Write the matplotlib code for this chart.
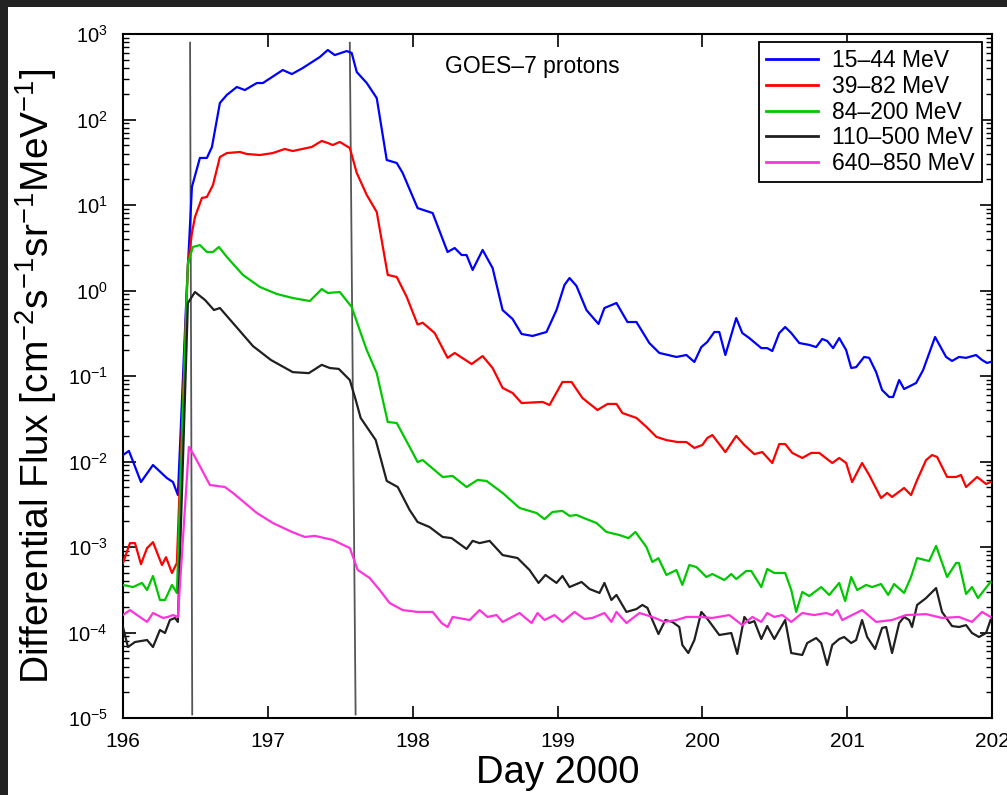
import matplotlib
matplotlib.use("Agg")
import matplotlib.pyplot as plt
from matplotlib.patches import Rectangle
from matplotlib.ticker import LogLocator, LogFormatterSciNotation, FixedLocator, NullLocator

plt.rcParams['font.family'] = ['Liberation Sans', 'DejaVu Sans']
plt.rcParams['mathtext.fontset'] = 'custom'
plt.rcParams['mathtext.rm'] = 'Liberation Sans'
plt.rcParams['mathtext.it'] = 'Liberation Sans:italic'
plt.rcParams['mathtext.bf'] = 'Liberation Sans:bold'
plt.rcParams['mathtext.sf'] = 'Liberation Sans'

# ---------------- data ----------------
labels = ["15–44 MeV", "39–82 MeV", "84–200 MeV", "110–500 MeV", "640–850 MeV"]
colors = ["#0000ff", "#ff0000", "#00c800", "#202020", "#ff33dd"]

day_15_44 = [196.000, 196.041, 196.124, 196.207, 196.303, 196.345, 196.379, 196.441, 196.476, 196.531,
             196.579, 196.614, 196.669, 196.717, 196.786, 196.841, 196.924, 196.966, 197.103, 197.166,
             197.241, 197.359, 197.414, 197.462, 197.545, 197.579, 197.614, 197.683, 197.752, 197.821,
             197.890, 197.931, 198.034, 198.138, 198.241, 198.290, 198.338, 198.372, 198.414, 198.483,
             198.552, 198.621, 198.690, 198.752, 198.828, 198.924, 198.993, 199.048, 199.083, 199.131,
             199.200, 199.241, 199.283, 199.324, 199.407, 199.483, 199.545, 199.634, 199.703, 199.821,
             199.890, 199.945, 199.993, 200.034, 200.083, 200.117, 200.159, 200.234, 200.276, 200.324,
             200.407, 200.448, 200.483, 200.531, 200.572, 200.614, 200.669, 200.738, 200.786, 200.828,
             200.862, 200.903, 200.945, 200.993, 201.028, 201.062, 201.117, 201.152, 201.200, 201.241,
             201.290, 201.317, 201.359, 201.393, 201.476, 201.524, 201.607, 201.683, 201.724, 201.772,
             201.821, 201.890, 201.931, 201.966, 201.990]
flux_15_44 = [1.19e-2, 1.33e-2, 5.75e-3, 9.1e-3, 6.4e-3, 5.75e-3, 4.06e-3, 1.1, 16.3, 35.5,
              35.5, 47.6, 156, 194, 240, 221, 267, 267, 379, 340,
              400, 538, 650, 567, 632, 600, 359, 267, 178, 33.6,
              31, 23.7, 9.2, 8.05, 2.82, 3.14, 2.60, 2.60, 1.74, 2.98,
              1.83, 0.59, 0.464, 0.31, 0.294, 0.327, 0.59, 1.16, 1.40, 1.13,
              0.59, 0.49, 0.406, 0.624, 0.714, 0.428, 0.428, 0.243, 0.186, 0.167,
              0.176, 0.146, 0.218, 0.25, 0.327, 0.327, 0.176, 0.476, 0.318, 0.278,
              0.212, 0.212, 0.196, 0.318, 0.374, 0.318, 0.243, 0.231, 0.218, 0.271,
              0.257, 0.212, 0.278, 0.201, 0.124, 0.127, 0.167, 0.163, 0.111, 0.0686,
              0.0568, 0.0568, 0.0897, 0.0704, 0.0828, 0.117, 0.286, 0.167, 0.150, 0.167,
              0.163, 0.176, 0.154, 0.142, 0.146]

day_39_82 = [196.000, 196.048, 196.083, 196.124, 196.166, 196.207, 196.269, 196.297, 196.338, 196.372,
             196.448, 196.476, 196.497, 196.545, 196.579, 196.621, 196.669, 196.717, 196.807, 196.855,
             196.945, 197.034, 197.117, 197.172, 197.303, 197.372, 197.414, 197.448, 197.497, 197.566,
             197.614, 197.683, 197.752, 197.828, 197.890, 197.959, 198.034, 198.069, 198.152, 198.241,
             198.290, 198.407, 198.483, 198.552, 198.621, 198.690, 198.752, 198.897, 198.945, 199.034,
             199.097, 199.172, 199.276, 199.345, 199.407, 199.448, 199.545, 199.614, 199.683, 199.752,
             199.828, 199.890, 199.945, 200.000, 200.034, 200.069, 200.159, 200.234, 200.290, 200.359,
             200.414, 200.483, 200.531, 200.572, 200.621, 200.690, 200.752, 200.807, 200.897, 200.945,
             200.993, 201.034, 201.103, 201.152, 201.234, 201.276, 201.310, 201.393, 201.441, 201.483,
             201.545, 201.586, 201.621, 201.690, 201.752, 201.786, 201.821, 201.897, 201.959, 201.990]
flux_39_82 = [6.5e-4, 1.11e-3, 1.11e-3, 6.3e-4, 9.7e-4, 1.14e-3, 6.15e-4, 7.6e-4, 4.97e-4, 6.5e-4,
              2.0, 4.71, 7.24, 12.1, 12.4, 17.1, 36.4, 40.5, 41.7, 39.5,
              38.4, 40.5, 45.2, 42.8, 47.7, 56.1, 53.1, 50.3, 54.6, 46.4,
              23.7, 13.1, 8.28, 1.52, 1.44, 0.84, 0.40, 0.42, 0.318, 0.163,
              0.186, 0.138, 0.171, 0.124, 0.0725, 0.0633, 0.0483, 0.0497, 0.0458, 0.0851,
              0.0851, 0.0553, 0.040, 0.0471, 0.0471, 0.0369, 0.0323, 0.0254, 0.0194, 0.0178,
              0.0169, 0.0169, 0.0144, 0.0156, 0.0188, 0.0204, 0.0129, 0.0199, 0.0156, 0.0122,
              0.0129, 0.0096, 0.016, 0.016, 0.0126, 0.011, 0.0126, 0.0126, 0.0096, 0.011,
              0.0096, 0.00575, 0.0096, 0.00695, 0.00374, 0.00429, 0.00385, 0.0049, 0.00405, 0.00608,
              0.0104, 0.0119, 0.0113, 0.00659, 0.00659, 0.00695, 0.00503, 0.00659, 0.00546, 0.00575]

day_84_200 = [196.000, 196.069, 196.131, 196.166, 196.207, 196.255, 196.290, 196.338, 196.372, 196.448,
              196.483, 196.531, 196.579, 196.621, 196.662, 196.717, 196.828, 196.945, 197.062, 197.172,
              197.290, 197.372, 197.414, 197.497, 197.579, 197.634, 197.683, 197.752, 197.828, 197.890,
              197.979, 198.034, 198.069, 198.207, 198.276, 198.372, 198.448, 198.510, 198.621, 198.738,
              198.855, 198.910, 198.966, 199.034, 199.083, 199.131, 199.200, 199.269, 199.338, 199.428,
              199.490, 199.538, 199.614, 199.655, 199.697, 199.752, 199.821, 199.862, 199.910, 199.959,
              200.028, 200.069, 200.152, 200.200, 200.234, 200.303, 200.338, 200.407, 200.448, 200.497,
              200.572, 200.614, 200.648, 200.690, 200.738, 200.821, 200.876, 200.945, 200.986, 201.028,
              201.069, 201.131, 201.172, 201.234, 201.283, 201.324, 201.393, 201.441, 201.483, 201.566,
              201.614, 201.690, 201.752, 201.772, 201.821, 201.862, 201.903, 201.990]
flux_84_200 = [3.6e-4, 3.4e-4, 3.8e-4, 3.14e-4, 4.58e-4, 2.4e-4, 2.4e-4, 3.6e-4, 2.9e-4, 2.1,
               3.23, 3.4, 2.82, 2.82, 3.23, 2.47, 1.52, 1.10, 0.91, 0.817,
               0.753, 1.04, 0.935, 0.96, 0.641, 0.345, 0.201, 0.108, 0.029, 0.0282,
               0.0148, 0.00986, 0.0104, 0.00659, 0.00677, 0.00503, 0.00608, 0.00592, 0.00429, 0.00286,
               0.0025, 0.00212, 0.00257, 0.00264, 0.00231, 0.00237, 0.00212, 0.00191, 0.0015, 0.00138,
               0.00127, 0.0015, 0.001, 6.68e-4, 7.4e-4, 4.71e-4, 5.38e-4, 3.6e-4, 6.15e-4, 5.83e-4,
               4.46e-4, 4.83e-4, 4.11e-4, 4.83e-4, 4.22e-4, 5.24e-4, 5.24e-4, 3.4e-4, 5.53e-4, 4.97e-4,
               4.97e-4, 3.14e-4, 1.74e-4, 2.98e-4, 2.67e-4, 3.4e-4, 2.75e-4, 3.8e-4, 2.33e-4, 4.46e-4,
               3.14e-4, 3.6e-4, 3.4e-4, 3.69e-4, 2.75e-4, 3.69e-4, 2.9e-4, 4.46e-4, 7.43e-4, 6.85e-4,
               1.03e-3, 4.46e-4, 6.5e-4, 6.5e-4, 2.82e-4, 3.4e-4, 2.53e-4, 3.9e-4]

day_110_500 = [196.000, 196.034, 196.083, 196.166, 196.207, 196.255, 196.290, 196.324, 196.359, 196.379,
               196.448, 196.497, 196.566, 196.628, 196.669, 196.759, 196.897, 197.021, 197.172, 197.283,
               197.372, 197.428, 197.490, 197.566, 197.607, 197.641, 197.745, 197.821, 197.897, 197.979,
               198.034, 198.117, 198.207, 198.269, 198.372, 198.414, 198.462, 198.531, 198.621, 198.724,
               198.807, 198.869, 198.917, 198.993, 199.034, 199.083, 199.166, 199.221, 199.290, 199.324,
               199.372, 199.407, 199.476, 199.545, 199.586, 199.621, 199.655, 199.697, 199.745, 199.793,
               199.841, 199.862, 199.903, 199.945, 199.993, 200.034, 200.117, 200.200, 200.241, 200.290,
               200.324, 200.359, 200.407, 200.448, 200.497, 200.572, 200.614, 200.690, 200.724, 200.786,
               200.821, 200.862, 200.897, 200.945, 200.979, 201.028, 201.062, 201.103, 201.138, 201.193,
               201.241, 201.269, 201.310, 201.359, 201.393, 201.428, 201.448, 201.483, 201.545, 201.614,
               201.655, 201.724, 201.772, 201.821, 201.862, 201.910, 201.959, 201.990]
flux_110_500 = [1.16e-4, 6.76e-5, 7.74e-5, 8.17e-5, 6.76e-5, 1.07e-4, 9.86e-5, 1.4e-4, 1.48e-4, 1.33e-4,
                0.714, 0.96, 0.775, 0.591, 0.624, 0.417, 0.224, 0.154, 0.111, 0.108,
                0.135, 0.124, 0.121, 0.0897, 0.0524, 0.0323, 0.0178, 0.00592, 0.00503, 0.00271,
                0.00196, 0.00171, 0.00131, 0.00127, 9.48e-4, 1.18e-3, 1.11e-3, 1.18e-3, 8.05e-4, 7.43e-4,
                5.38e-4, 3.8e-4, 4.71e-4, 3.8e-4, 4.58e-4, 3.4e-4, 3.9e-4, 3.23e-4, 2.9e-4, 3.8e-4,
                2.4e-4, 2.75e-4, 1.74e-4, 1.88e-4, 2.1e-4, 1.94e-4, 1.4e-4, 9.6e-5, 1.4e-4, 1.33e-4,
                1.16e-4, 7.14e-5, 5.75e-5, 8.17e-5, 1.74e-4, 1.45e-4, 9.35e-5, 9.86e-5, 5.61e-5, 1.52e-4,
                1.29e-4, 1.36e-4, 8.39e-5, 1.19e-4, 8.39e-5, 1.4e-4, 5.75e-5, 5.46e-5, 7.53e-5, 8.62e-5,
                7.53e-5, 4.17e-5, 7.14e-5, 8.39e-5, 8.86e-5, 7.53e-5, 8.17e-5, 1.4e-4, 8.86e-5, 6.41e-5,
                1.13e-4, 1.16e-4, 5.75e-5, 1.29e-4, 1.52e-4, 1.4e-4, 1.16e-4, 2.1e-4, 2.53e-4, 3.31e-4,
                1.74e-4, 1.19e-4, 1.16e-4, 1.22e-4, 9.86e-5, 8.86e-5, 9.86e-5, 1.4e-4]

day_640_850 = [196.000, 196.048, 196.097, 196.166, 196.207, 196.276, 196.310, 196.345, 196.379, 196.455,
               196.497, 196.600, 196.703, 196.759, 196.924, 197.034, 197.166, 197.255, 197.324, 197.448,
               197.566, 197.621, 197.703, 197.772, 197.841, 197.931, 198.034, 198.138, 198.200, 198.241,
               198.276, 198.393, 198.462, 198.517, 198.579, 198.621, 198.738, 198.821, 198.862, 198.910,
               198.979, 199.034, 199.117, 199.186, 199.241, 199.324, 199.372, 199.407, 199.476, 199.566,
               199.655, 199.738, 199.821, 199.890, 199.979, 200.069, 200.186, 200.276, 200.345, 200.407,
               200.448, 200.497, 200.552, 200.614, 200.690, 200.772, 200.855, 200.897, 200.931, 200.966,
               201.034, 201.103, 201.200, 201.310, 201.407, 201.545, 201.655, 201.772, 201.862, 201.931,
               201.990]
flux_640_850 = [1.6e-4, 1.83e-4, 1.6e-4, 1.33e-4, 1.69e-4, 1.48e-4, 1.52e-4, 1.6e-4, 1.52e-4, 0.0148,
                0.0113, 0.00531, 0.00503, 0.00429, 0.0025, 0.00191, 0.0015, 0.00131, 0.00135, 0.00121,
                9.72e-4, 5.38e-4, 4.34e-4, 3.14e-4, 2.21e-4, 1.83e-4, 1.74e-4, 1.74e-4, 1.29e-4, 1.16e-4,
                1.52e-4, 1.4e-4, 1.83e-4, 1.52e-4, 1.6e-4, 1.33e-4, 1.69e-4, 1.29e-4, 1.69e-4, 1.4e-4,
                1.6e-4, 1.33e-4, 1.74e-4, 1.44e-4, 1.48e-4, 1.69e-4, 1.33e-4, 1.74e-4, 1.29e-4, 1.69e-4,
                1.52e-4, 1.33e-4, 1.4e-4, 1.52e-4, 1.52e-4, 1.48e-4, 1.6e-4, 1.22e-4, 1.52e-4, 1.33e-4,
                1.69e-4, 1.52e-4, 1.6e-4, 1.33e-4, 1.69e-4, 1.6e-4, 1.69e-4, 1.6e-4, 1.83e-4, 1.4e-4,
                1.6e-4, 1.83e-4, 1.33e-4, 1.4e-4, 1.6e-4, 1.64e-4, 1.48e-4, 1.52e-4, 1.33e-4, 1.74e-4,
                1.52e-4]

# event markers (slightly slanted vertical lines): day at top, day at bottom
event_top_days = [196.463, 197.566]
event_bottom_days = [196.478, 197.606]
event_flux_top = 7.9e2
event_flux_bottom = 1.1e-5

x_ticks = [196, 197, 198, 199, 200, 201, 202]
x_tick_labels = ["196", "197", "198", "199", "200", "201", "202"]

# ---------------- figure ----------------
W, H = 1007, 795
fig = plt.figure(figsize=(W / 100, H / 100), dpi=100)
fig.patch.set_facecolor("white")
# dark frame at top and left edges
fig.patches.append(Rectangle((0, 1 - 7 / H), 1, 7 / H, transform=fig.transFigure,
                             facecolor="#222222", edgecolor="none", zorder=0))
fig.patches.append(Rectangle((0, 0), 8 / W, 1, transform=fig.transFigure,
                             facecolor="#222222", edgecolor="none", zorder=0))

ax = fig.add_axes([123 / W, 1 - 718 / H, (992 - 123) / W, (718 - 34) / H])

series = [(day_15_44, flux_15_44), (day_39_82, flux_39_82), (day_84_200, flux_84_200),
          (day_110_500, flux_110_500), (day_640_850, flux_640_850)]
for (d, f), c, lab in zip(series, colors, labels):
    ax.plot(d, f, color=c, lw=1.6, label=lab, solid_joinstyle="round", zorder=3)

for t, b in zip(event_top_days, event_bottom_days):
    ax.plot([t, b], [event_flux_top, event_flux_bottom], color="#555555", lw=1.3, zorder=2)

ax.set_yscale("log")
ax.set_ylim(1e-5, 1e3)
ax.set_xlim(196, 202)

ax.yaxis.set_major_locator(LogLocator(base=10, numticks=20))
ax.yaxis.set_minor_locator(LogLocator(base=10, subs=range(2, 10), numticks=20))
ax.yaxis.set_major_formatter(LogFormatterSciNotation())
ax.xaxis.set_major_locator(FixedLocator(x_ticks))
ax.set_xticklabels(x_tick_labels)
ax.xaxis.set_minor_locator(NullLocator())

ax.tick_params(axis="both", which="major", direction="in", top=True, right=True,
               length=9, width=1.2)
ax.tick_params(axis="x", which="major", labelsize=15, pad=10)
ax.tick_params(axis="y", which="major", labelsize=14.5, pad=11)
ax.tick_params(axis="y", which="minor", direction="in", right=True, left=True,
               length=4.5, width=1.0)
for sp in ax.spines.values():
    sp.set_linewidth(1.5)

ax.set_xlabel("Day 2000", fontsize=27.5, labelpad=3)
ax.set_ylabel(r"Differential Flux [cm$^{-2}$s$^{-1}$sr$^{-1}$MeV$^{-1}$]", fontsize=28, labelpad=6)

ax.text(0.471, 0.952, "GOES–7 protons", transform=ax.transAxes, ha="center", va="center",
        fontsize=16.5)

leg = ax.legend(loc="upper right", bbox_to_anchor=(0.988, 0.988), borderaxespad=0,
                fontsize=16.5, frameon=True, fancybox=False, framealpha=1,
                edgecolor="black", handlelength=2.3, handletextpad=0.6,
                labelspacing=0.12, borderpad=0.3)
leg.get_frame().set_linewidth(1.3)
for h in leg.get_lines():
    h.set_linewidth(2.0)

fig.savefig("out.png", dpi=100)
